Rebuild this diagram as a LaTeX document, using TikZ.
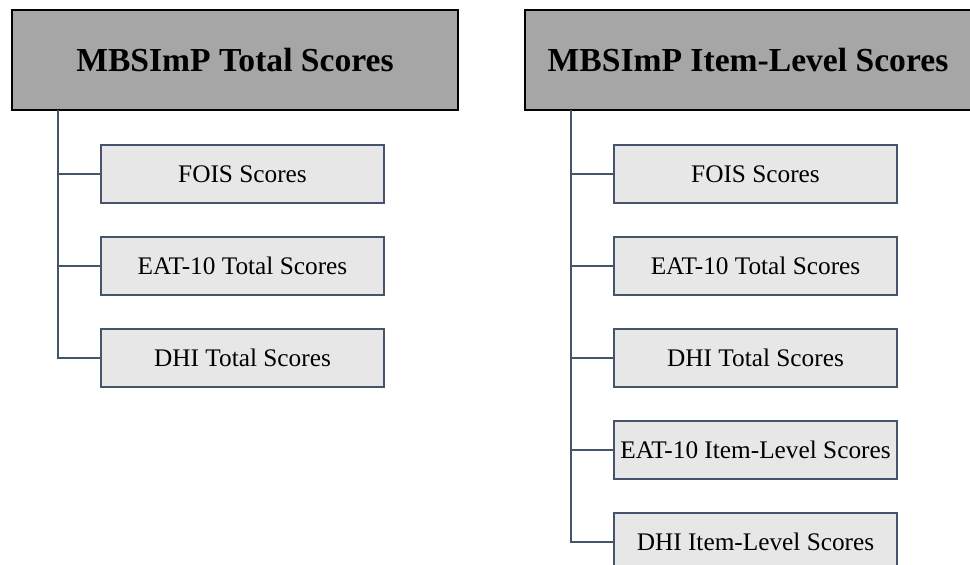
\documentclass[tikz,border=0pt]{standalone}
\usepackage{fontspec}
\setmainfont{Liberation Serif}
\definecolor{headfill}{HTML}{A6A6A6}
\definecolor{itemfill}{HTML}{E7E7E7}
\definecolor{slate}{HTML}{44546A}
\begin{document}
\begin{tikzpicture}[x=1pt,y=-1pt,
  header/.style={draw=black, line width=2pt, fill=headfill, minimum width=446pt,
    minimum height=100pt, inner sep=0pt, font=\fontsize{33.6}{36}\selectfont\bfseries},
  item/.style={draw=slate, line width=1.6pt, fill=itemfill, minimum width=283pt,
    minimum height=58pt, inner sep=0pt, font=\fontsize{25.3}{28}\selectfont},
  link/.style={draw=slate, line width=2pt}]
\clip (0,0) rectangle (970,565);
\useasboundingbox (0,0) rectangle (970,565);
\fill[white] (0,0) rectangle (970,565);

% Left tree: total scores
\node[header] (L) at (235,60) {MBSImP Total Scores};
\coordinate (Lroot) at (58,110);
\node[item] (L1) at (242.5,174) {FOIS Scores};
\node[item] (L2) at (242.5,266) {EAT-10 Total Scores};
\node[item] (L3) at (242.5,358) {DHI Total Scores};
\draw[link] (Lroot) |- (L3.west);
\foreach \n in {L1,L2}
  \draw[link] (\n.west -| Lroot) -- (\n.west);

% Right tree: item-level scores
\node[header] (R) at (748,60) {MBSImP Item-Level Scores};
\coordinate (Rroot) at (571,110);
\node[item] (R1) at (755.5,174) {FOIS Scores};
\node[item] (R2) at (755.5,266) {EAT-10 Total Scores};
\node[item] (R3) at (755.5,358) {DHI Total Scores};
\node[item] (R4) at (755.5,450) {EAT-10 Item-Level Scores};
\node[item] (R5) at (755.5,542) {DHI Item-Level Scores};
\draw[link] (Rroot) |- (R5.west);
\foreach \n in {R1,R2,R3,R4}
  \draw[link] (\n.west -| Rroot) -- (\n.west);
\end{tikzpicture}
\end{document}
